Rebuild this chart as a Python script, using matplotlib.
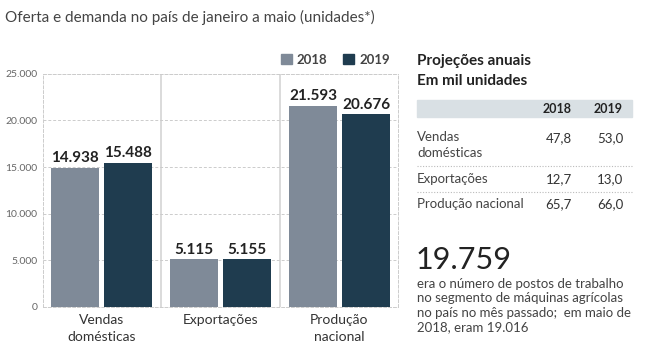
import matplotlib
matplotlib.use("Agg")
import matplotlib.pyplot as plt
from matplotlib.patches import Patch, Rectangle
import numpy as np

plt.rcParams['font.family'] = ['Lato', 'DejaVu Sans']

# Data
categories = ["Vendas\ndomésticas", "Exportações", "Produção\nnacional"]
years = ["2018", "2019"]
values_2018 = [14938, 5115, 21593]
values_2019 = [15488, 5155, 20676]
yticks = [0, 5000, 10000, 15000, 20000, 25000]
ytick_labels = ["0", "5.000", "10.000", "15.000", "20.000", "25.000"]

table_rows = ["Vendas\ndomésticas", "Exportações", "Produção nacional"]
table_2018 = ["47,8", "12,7", "65,7"]
table_2019 = ["53,0", "13,0", "66,0"]

big_number = "19.759"
note = ("era o número de postos de trabalho\n"
        "no segmento de máquinas agrícolas\n"
        "no país no mês passado;  em maio de\n"
        "2018, eram 19.016")

c2018 = "#7f8a98"
c2019 = "#1f3c4f"

fig = plt.figure(figsize=(6.5, 3.5), dpi=100)
ax = fig.add_axes([0.066, 0.123, 0.546, 0.666])

x = np.arange(len(categories))
w = 0.40
off = 0.223
b1 = ax.bar(x - off, values_2018, w, color=c2018, zorder=3)
b2 = ax.bar(x + off, values_2019, w, color=c2019, zorder=3)

# value labels
for bars, vals in [(b1, values_2018), (b2, values_2019)]:
    for rect, v in zip(bars, vals):
        lbl = f"{v:,}".replace(",", ".")
        ax.text(rect.get_x() + rect.get_width() / 2, v + 250, lbl,
                ha="center", va="bottom", fontsize=11, fontweight="bold", color="#222222")

ax.set_xlim(-0.49, 2.49)
ax.set_ylim(0, 25000)
ax.set_yticks(yticks)
ax.set_yticklabels(ytick_labels, fontsize=7.5, color="#666666")
ax.set_xticks(x)
ax.set_xticklabels(categories, fontsize=10, color="#333333", linespacing=1.55)
ax.tick_params(length=0, pad=4)
ax.tick_params(axis="x", pad=5)

# grid and frame
ax.grid(axis="y", linestyle=(0, (3, 2)), color="#cccccc", linewidth=0.7, zorder=0)
for s in ax.spines.values():
    s.set_linestyle((0, (3, 2)))
    s.set_color("#cccccc")
    s.set_linewidth(0.7)
for sep in [0.5, 1.5]:
    ax.axvline(sep, color="#d4d4d4", linewidth=1.2, zorder=1)

# legend
handles = [Patch(color=c2018, label="2018"), Patch(color=c2019, label="2019")]
leg = ax.legend(handles=handles, loc="lower right", bbox_to_anchor=(1.0, 1.0),
                ncol=2, frameon=False, fontsize=9.5, handlelength=0.8, handleheight=0.8,
                handletextpad=0.4, columnspacing=1.2, borderaxespad=0.2)
for t in leg.get_texts():
    t.set_fontweight("bold")
    t.set_color("#444444")

# subtitle
fig.text(5 / 650, 1 - 17 / 350, "Oferta e demanda no país de janeiro a maio (unidades*)",
         fontsize=11, color="#444444", va="center", ha="left")

# side table
def fy(py):
    return 1 - py / 350

def fx(px):
    return px / 650

fig.text(fx(417), fy(61), "Projeções anuais", fontsize=11, fontweight="bold",
         color="#222222", va="center")
fig.text(fx(417), fy(81), "Em mil unidades", fontsize=11, fontweight="bold",
         color="#222222", va="center")
fig.patches.append(Rectangle((fx(417), fy(117)), fx(632) - fx(417), fy(100) - fy(117),
                             transform=fig.transFigure, color="#d9e0e4", zorder=0))
fig.text(fx(572), fy(109), years[0], fontsize=9, fontweight="bold", color="#222222",
         ha="right", va="center")
fig.text(fx(623), fy(109), years[1], fontsize=9, fontweight="bold", color="#222222",
         ha="right", va="center")

row_y = [138, 179, 204]
for name, v1, v2, ry in zip(table_rows, table_2018, table_2019, row_y):
    if "\n" in name:
        fig.text(fx(417), fy(ry - 7), name, fontsize=9.5, color="#444444", va="top",
                 linespacing=1.35)
    else:
        fig.text(fx(417), fy(ry), name, fontsize=9.5, color="#444444", va="center")
    fig.text(fx(572), fy(ry), v1, fontsize=9.5, color="#333333", ha="right", va="center")
    fig.text(fx(623), fy(ry), v2, fontsize=9.5, color="#333333", ha="right", va="center")

for ly in [166, 192]:
    fig.add_artist(plt.Line2D([fx(417), fx(632)], [fy(ly), fy(ly)], transform=fig.transFigure,
                              color="#bbbbbb", linewidth=0.8, linestyle=(0, (1, 1.5))))

fig.text(fx(416), fy(260), big_number, fontsize=22, color="#222222", va="center")
fig.text(fx(417), fy(278), note, fontsize=9.5, color="#444444", va="top", linespacing=1.25)

fig.savefig("out.png", dpi=100)
